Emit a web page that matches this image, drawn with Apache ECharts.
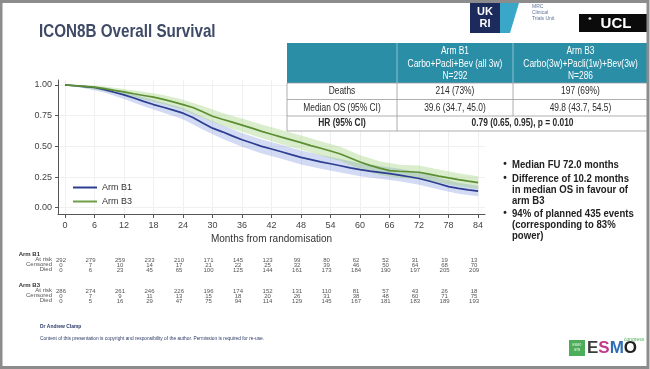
<!DOCTYPE html>
<html><head><meta charset="utf-8">
<script src="https://cdn.jsdelivr.net/npm/echarts@6/dist/echarts.min.js"></script>
<style>html,body{margin:0;padding:0;background:#fff;}#c{width:650px;height:369px;}</style>
</head><body><div id="c"></div>
<script>
// ---------- data ----------
const months = [0,2,4,6,8,10,12,14,16,18,20,22,24,26,28,30,32,34,36,38,40,42,44,46,48,50,52,54,56,58,60,62,64,66,68,70,72,74,76,78,80,82,84];
const armB1 = [1.000,0.993,0.986,0.979,0.962,0.940,0.919,0.893,0.866,0.840,0.818,0.795,0.770,0.735,0.690,0.648,0.618,0.585,0.553,0.527,0.500,0.478,0.456,0.432,0.410,0.392,0.374,0.358,0.342,0.325,0.310,0.298,0.288,0.278,0.266,0.252,0.238,0.218,0.195,0.172,0.158,0.146,0.135];
const armB3 = [1.000,0.994,0.988,0.982,0.970,0.956,0.943,0.928,0.914,0.900,0.882,0.862,0.840,0.816,0.782,0.745,0.720,0.697,0.673,0.648,0.622,0.598,0.575,0.553,0.530,0.506,0.484,0.462,0.438,0.405,0.372,0.345,0.322,0.302,0.297,0.293,0.289,0.274,0.258,0.243,0.229,0.216,0.204];
const bandMonths = [0,4,8,12,16,20,24,28,32,36,40,44,48,52,56,60,64,68,72,76,80,84];
const armB1Lower = [1.000,0.972,0.939,0.886,0.826,0.773,0.721,0.637,0.562,0.496,0.442,0.398,0.353,0.318,0.287,0.257,0.236,0.215,0.188,0.148,0.114,0.093];
const armB1Upper = [1.000,0.996,0.980,0.946,0.899,0.856,0.812,0.738,0.671,0.608,0.556,0.512,0.466,0.429,0.396,0.362,0.340,0.317,0.288,0.243,0.203,0.179];
const armB3Lower = [1.000,0.975,0.950,0.916,0.881,0.844,0.797,0.733,0.667,0.618,0.565,0.517,0.472,0.426,0.380,0.315,0.266,0.242,0.234,0.204,0.176,0.152];
const armB3Upper = [1.000,0.997,0.987,0.967,0.944,0.917,0.880,0.829,0.771,0.727,0.678,0.632,0.588,0.542,0.496,0.428,0.378,0.351,0.343,0.311,0.281,0.256];
const xTicks = [0,6,12,18,24,30,36,42,48,54,60,66,72,78,84];
const yTicks = [0,0.25,0.5,0.75,1];
const yTickLabels = ['0.00','0.25','0.50','0.75','1.00'];
const b1AtRisk   = [292,279,259,233,210,171,145,123,99,80,62,52,31,19,13];
const b1Censored = [0,7,10,14,17,21,22,25,32,39,46,50,64,68,70];
const b1Died     = [0,6,23,45,65,100,125,144,161,173,184,190,197,205,209];
const b3AtRisk   = [286,274,261,246,226,196,174,152,131,110,81,57,43,26,18];
const b3Censored = [0,7,9,11,13,15,18,20,26,31,38,48,60,71,75];
const b3Died     = [0,5,16,29,47,75,94,114,129,145,167,181,183,189,193];
const seriesNames = ['Arm B1','Arm B3'];
const tableHeader = [['Arm B1','Carbo+Pacli+Bev (all 3w)','N=292'],['Arm B3','Carbo(3w)+Pacli(1w)+Bev(3w)','N=286']];
const tableRows = [['Deaths','214 (73%)','197 (69%)'],['Median OS (95% CI)','39.6 (34.7, 45.0)','49.8 (43.7, 54.5)']];
const hrRow = ['HR (95% CI)','0.79 (0.65, 0.95), p = 0.010'];
const bullets = [['Median FU 72.0 months'],['Difference of 10.2 months','in median OS in favour of','arm B3'],['94% of planned 435 events','(corresponding to 83%','power)']];

// ---------- chart ----------
const SANS = "'Liberation Sans', Arial, sans-serif";
const chart = echarts.init(document.getElementById('c'), null, {renderer:'canvas', width:650, height:369});

function bandSeries(lo, hi, fill){
  return {
    type:'custom', silent:true, z:1,
    data: bandMonths.map((m,i)=>[m, lo[i], hi[i]]),
    encode:{x:0, y:[1,2]},
    renderItem: function(params, api){
      if (params.dataIndex !== 0) return null;
      const pts = [];
      for (let i=0;i<bandMonths.length;i++) pts.push(api.coord([bandMonths[i], hi[i]]));
      for (let i=bandMonths.length-1;i>=0;i--) pts.push(api.coord([bandMonths[i], lo[i]]));
      return {type:'polygon', shape:{points:pts}, style:{fill:fill}};
    }
  };
}

function riskAxis(arr, offset){
  return {
    type:'value', gridIndex:0, position:'bottom', offset:offset, min:-1.42, max:85.4,
    axisLine:{show:false}, axisTick:{show:false}, splitLine:{show:false},
    axisLabel:{show:true, customValues:xTicks, margin:0, fontSize:6, color:'#555', fontFamily:SANS,
      padding:[0,8,0,0],
      formatter: v => String(arr[Math.round(v/6)])}
  };
}

const g = [];
function txt(x,y,text,font,fill,align,sx){
  g.push({type:'text', x:x, y:y, z:100, scaleX:sx||1, silent:true,
    style:{text:text, font:font, fill:fill||'#333', align:align||'left', verticalAlign:'middle'}});
}
function rect(x,y,w,h,fill,stroke,lw){
  g.push({type:'rect', z:99, silent:true, shape:{x:x,y:y,width:w,height:h}, style:{fill:fill||'none', stroke:stroke||null, lineWidth:lw||0}});
}
function line(x1,y1,x2,y2,stroke,lw){
  g.push({type:'line', z:100, silent:true, shape:{x1:x1,y1:y1,x2:x2,y2:y2}, style:{stroke:stroke, lineWidth:lw||1}});
}

// title
txt(39, 32, 'ICON8B Overall Survival', 'bold 19px '+SANS, '#3f4a66', 'left', 0.8);

// logos
rect(470, 3, 30, 30, '#1d2a5c');
txt(485, 11.5, 'UK', 'bold 11px '+SANS, '#ffffff', 'center');
txt(485, 24, 'RI', 'bold 11px '+SANS, '#ffffff', 'center');
g.push({type:'polygon', z:99, silent:true, shape:{points:[[500,3],[519,3],[510,33],[500,33]]}, style:{fill:'#3aa7c9'}});
txt(532, 7, 'MRC', '5px '+SANS, '#5f7396');
txt(532, 13, 'Clinical', '5px '+SANS, '#5f7396');
txt(532, 19, 'Trials Unit', '5px '+SANS, '#5f7396');
rect(579, 14, 68, 18, '#0b0b0b');
txt(616, 23.5, 'UCL', 'bold 15px '+SANS, '#ffffff', 'center');
txt(590, 19, '\u2663', '5px '+SANS, '#ffffff', 'center');

// table
const tx0=287, tx1=397, tx2=513, tx3=648;
const TF = '10px '+SANS, TSX = 0.84;
rect(tx0, 43, tx3-tx0, 40, '#2b8ea7');
line(tx1, 43, tx1, 83, 'rgba(255,255,255,0.6)', 0.8);
line(tx2, 43, tx2, 83, 'rgba(255,255,255,0.6)', 0.8);
const hdrY=[51.5,64.5,76.5];
for (let k=0;k<3;k++){
  txt((tx1+tx2)/2, hdrY[k], tableHeader[0][k], TF, '#ffffff', 'center', TSX);
  txt((tx2+tx3)/2, hdrY[k], tableHeader[1][k], TF, '#ffffff', 'center', TSX);
}
rect(tx0, 83, tx3-tx0, 48, '#ffffff', '#9a9a9a', 0.8);
line(tx0, 99.5, tx3, 99.5, '#9a9a9a', 0.8);
line(tx0, 116, tx3, 116, '#9a9a9a', 0.8);
line(tx1, 83, tx1, 131, '#9a9a9a', 0.8);
line(tx2, 83, tx2, 116, '#9a9a9a', 0.8);
const rowY=[91.5,108];
for (let r=0;r<2;r++){
  txt((tx0+tx1)/2, rowY[r], tableRows[r][0], TF, '#2a2a2a', 'center', TSX);
  txt((tx1+tx2)/2, rowY[r], tableRows[r][1], TF, '#2a2a2a', 'center', TSX);
  txt((tx2+tx3)/2, rowY[r], tableRows[r][2], TF, '#2a2a2a', 'center', TSX);
}
txt((tx0+tx1)/2, 123.5, hrRow[0], 'bold '+TF, '#2a2a2a', 'center', TSX);
txt((tx1+tx3)/2, 123.5, hrRow[1], 'bold '+TF, '#2a2a2a', 'center', TSX);

// bullets
const bulletY=[[164.5],[178.5,189.5,200.5],[213.5,224.5,235.5]];
for (let b=0;b<bullets.length;b++){
  txt(505, bulletY[b][0], '\u2022', 'bold 10px '+SANS, '#222', 'center');
  for (let l=0;l<bullets[b].length;l++) txt(512, bulletY[b][l], bullets[b][l], 'bold 11px '+SANS, '#222', 'left', 0.87);
}

// risk table labels
txt(40, 254, 'Arm B1', 'bold 6px '+SANS, '#333', 'right');
txt(52, 259.5, 'At risk', '6px '+SANS, '#555', 'right');
txt(52, 264.5, 'Censored', '6px '+SANS, '#555', 'right');
txt(52, 269.5, 'Died', '6px '+SANS, '#555', 'right');
txt(40, 285, 'Arm B3', 'bold 6px '+SANS, '#333', 'right');
txt(52, 290.5, 'At risk', '6px '+SANS, '#555', 'right');
txt(52, 295.5, 'Censored', '6px '+SANS, '#555', 'right');
txt(52, 300.5, 'Died', '6px '+SANS, '#555', 'right');

// footer
txt(40, 326, 'Dr Andrew Clamp', 'bold 6px '+SANS, '#2b3a66', 'left', 0.82);
txt(40, 338, 'Content of this presentation is copyright and responsibility of the author. Permission is required for re-use.', '6px '+SANS, '#2b3a66', 'left', 0.8);
rect(569, 340, 16, 16, '#4cae5a');
txt(577, 345, 'ESMO', '3px '+SANS, '#ffffff', 'center');
txt(577, 350, 'GYN', '3px '+SANS, '#ffffff', 'center');
g.push({type:'text', x:587, y:348, z:100, silent:true, style:{text:'{a|E}{b|S}{c|M}{d|O}', verticalAlign:'middle',
  rich:{a:{font:'bold 17px '+SANS, fill:'#3d3d3d'}, b:{font:'bold 17px '+SANS, fill:'#c2398a'}, c:{font:'bold 17px '+SANS, fill:'#2f6db5'}, d:{font:'bold 17px '+SANS, fill:'#222'}}}});
txt(624, 340, 'congress', '5px '+SANS, '#4cae5a');

// frame
g.push({type:'rect', z:101, silent:true, shape:{x:1, y:1.5, width:647, height:366}, style:{fill:'none', stroke:'#8c8c8c', lineWidth:3}});

const option = {
  animation:false,
  backgroundColor:'#ffffff',
  grid:{left:58, right:165, top:80, bottom:155},
  legend:{orient:'vertical', left:68, top:178, itemWidth:24, itemHeight:2, itemGap:5, icon:'rect', selectedMode:false,
    textStyle:{fontSize:9, color:'#333', fontFamily:SANS}, data:seriesNames},
  xAxis:[
    {type:'value', min:-1.42, max:85.4,
     axisLine:{show:true, onZero:false, lineStyle:{color:'#555', width:1}},
     axisTick:{show:true, length:4, customValues:xTicks, lineStyle:{color:'#555'}},
     axisLabel:{customValues:xTicks, margin:7, fontSize:9, color:'#444', fontFamily:SANS},
     splitLine:{show:true, lineStyle:{color:'#f0f0f0', width:1}},
     name:'Months from randomisation', nameLocation:'middle', nameGap:20,
     nameTextStyle:{fontSize:10, color:'#333', fontFamily:SANS}},
    riskAxis(b1AtRisk, 43), riskAxis(b1Censored, 48), riskAxis(b1Died, 53),
    riskAxis(b3AtRisk, 74), riskAxis(b3Censored, 79), riskAxis(b3Died, 84)
  ],
  yAxis:{type:'value', min:-0.051, max:1.04,
    axisLine:{show:true, onZero:false, lineStyle:{color:'#555', width:1}},
    axisTick:{show:true, length:3, customValues:yTicks, lineStyle:{color:'#555'}},
    axisLabel:{customValues:yTicks, margin:6, fontSize:9, color:'#444', fontFamily:SANS,
      formatter: v => yTickLabels[yTicks.indexOf(Math.round(v*100)/100)]},
    splitLine:{show:true, lineStyle:{color:'#f0f0f0', width:1}}},
  series:[
    bandSeries(armB1Lower, armB1Upper, 'rgba(105,135,215,0.30)'),
    bandSeries(armB3Lower, armB3Upper, 'rgba(140,200,95,0.32)'),
    {name:seriesNames[0], type:'line', z:3, symbol:'none', data:months.map((m,i)=>[m, armB1[i]]),
     lineStyle:{color:'#2c3d92', width:1.7}, itemStyle:{color:'#2c3d92'}},
    {name:seriesNames[1], type:'line', z:3, symbol:'none', data:months.map((m,i)=>[m, armB3[i]]),
     lineStyle:{color:'#5b8f32', width:1.7}, itemStyle:{color:'#6f9f45'}}
  ],
  graphic:{elements:g}
};
chart.setOption(option);
</script></body></html>
